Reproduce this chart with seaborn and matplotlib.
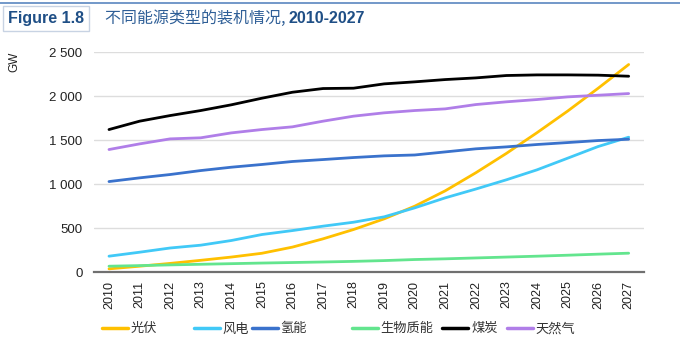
import pandas as pd
import seaborn as sns
import matplotlib.pyplot as plt
from matplotlib.lines import Line2D
from matplotlib.ticker import FuncFormatter

# --- データ (GW) ---
years = list(range(2010, 2028))
solar = [38, 68, 100, 135, 172, 215, 285, 379, 485, 606, 750, 925, 1130, 1350, 1585, 1830, 2090, 2360]
wind = [182, 227, 275, 307, 360, 428, 473, 523, 568, 629, 731, 845, 945, 1050, 1163, 1295, 1428, 1534]
hydro = [1030, 1072, 1110, 1155, 1193, 1224, 1258, 1280, 1303, 1322, 1332, 1367, 1402, 1424, 1451, 1473, 1496, 1511]
biomass = [68, 75, 83, 90, 97, 104, 110, 116, 123, 132, 144, 152, 162, 172, 182, 193, 205, 216]
coal = [1621, 1716, 1780, 1837, 1902, 1977, 2045, 2087, 2091, 2140, 2163, 2189, 2208, 2235, 2242, 2242, 2239, 2227]
gas = [1394, 1458, 1515, 1527, 1583, 1621, 1652, 1716, 1773, 1811, 1837, 1856, 1905, 1936, 1962, 1992, 2011, 2030]

series_names = ['光伏', '风电', '氢能', '生物质能', '煤炭', '天然气']
colors = ['#FFC000', '#41C9F7', '#3A72CC', '#63E58E', '#000000', '#B07EE8']

df = pd.DataFrame({'year': years, '光伏': solar, '风电': wind, '氢能': hydro,
                   '生物质能': biomass, '煤炭': coal, '天然气': gas})
long_df = df.melt(id_vars='year', var_name='type', value_name='GW')

sns.set_style('white')
plt.rcParams['font.family'] = ['Noto Sans CJK SC', 'DejaVu Sans']

fig = plt.figure(figsize=(6.8, 3.51), dpi=100)
ax = fig.add_axes([0.1378, 0.2245, 0.8092, 0.6268])

sns.lineplot(data=long_df, x='year', y='GW', hue='type', hue_order=series_names,
             palette=dict(zip(series_names, colors)), linewidth=2.0, ax=ax, legend=False)

ax.set_xlim(2009.5, 2027.5)
ax.set_ylim(0, 2500)
ax.set_yticks(range(0, 2501, 500))
ax.yaxis.set_major_formatter(FuncFormatter(lambda v, p: f'{int(v):,}'.replace(',', ' ')))
ax.set_xticks(years)
ax.set_xticklabels([str(y) for y in years], rotation=90, fontsize=9, color='#222222',
                   family=['Liberation Sans', 'DejaVu Sans'])
for lab in ax.get_yticklabels():
    lab.set_fontsize(9.5)
    lab.set_color('#222222')
    lab.set_family(['Liberation Sans', 'DejaVu Sans'])
ax.tick_params(axis='both', length=0)
ax.tick_params(axis='y', pad=8)
ax.tick_params(axis='x', pad=6)
ax.set_xlabel('')
ax.set_ylabel('')
ax.grid(axis='y', color='#dddddd', linewidth=1)
ax.set_axisbelow(True)
for s in ['top', 'right', 'left']:
    ax.spines[s].set_visible(False)
ax.spines['bottom'].set_color('#707070')
ax.spines['bottom'].set_linewidth(1.6)

# GW ラベル
fig.text(0.021, 0.823, 'GW', rotation=90, ha='center', va='center', fontsize=8.5,
         color='#222222', family=['Liberation Sans', 'DejaVu Sans'])

# タイトル
fig.add_artist(Line2D([0, 1], [0.992, 0.992], color='#5a86c0', linewidth=1.2))
fig.text(0.012, 0.948, 'Figure 1.8', ha='left', va='center', fontsize=11.5, fontweight='bold',
         color='#1f4f86', family=['Liberation Sans', 'DejaVu Sans'],
         bbox=dict(boxstyle='square,pad=0.3', fc='white', ec='#c8d3e3', lw=1))
t1 = fig.text(0.154, 0.948, '不同能源类型的装机情况, ', ha='left', va='center', fontsize=11.5,
              color='#2f5f97')
ax.annotate('2010-2027', xy=(1, 0.5), xycoords=t1, ha='left', va='center', fontsize=11.5,
            fontweight='bold', color='#1f4f86', family=['Liberation Sans', 'DejaVu Sans'],
            annotation_clip=False)

# 凡例 (項目ごとに配置)
legend_x = [0.150, 0.285, 0.370, 0.517, 0.650, 0.745]
for name, col, lx in zip(series_names, colors, legend_x):
    h = Line2D([], [], color=col, linewidth=2.5)
    leg = fig.legend([h], [name], loc='center left', bbox_to_anchor=(lx, 0.063),
                     frameon=False, handlelength=2.0, handletextpad=0.2,
                     borderpad=0, borderaxespad=0, prop={'size': 9.5})
    for txt in leg.get_texts():
        txt.set_color('#333333')

fig.savefig('out.png', dpi=100)
